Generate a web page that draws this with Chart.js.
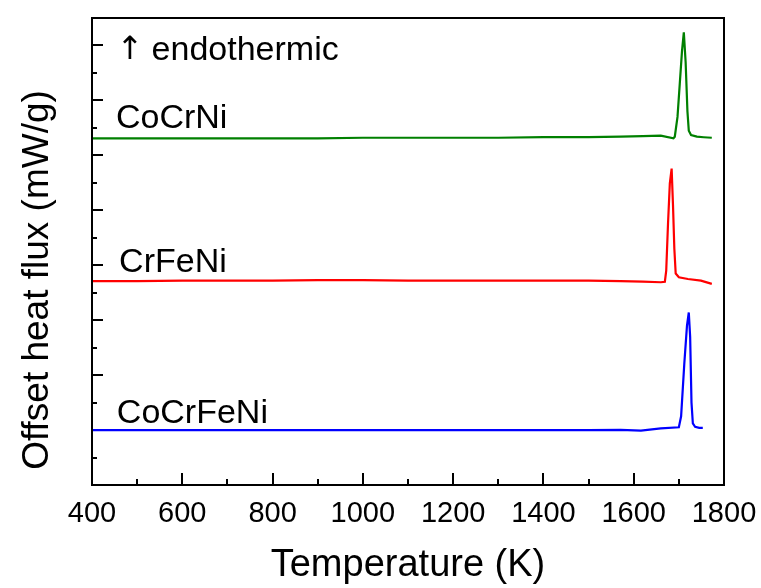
<!DOCTYPE html>
<html>
<head>
<meta charset="utf-8">
<script src="https://cdn.jsdelivr.net/npm/chart.js@4.4.0/dist/chart.umd.min.js"></script>
<style>
  html, body { margin: 0; padding: 0; background: #fff; }
  #wrap { width: 761px; height: 588px; }
</style>
</head>
<body>
<div id="wrap"><canvas id="dsc" width="761" height="588"></canvas></div>
<script>
// DSC heating curves (T in K, offset heat flux in arb. units)
const coCrNiT = [400, 500, 600, 700, 800, 900, 1000, 1100, 1200, 1300, 1400, 1500, 1571, 1620, 1660, 1688, 1691, 1697, 1702, 1707, 1711, 1715, 1719, 1722, 1727, 1740, 1755, 1773];
const coCrNiQ = [6.31, 6.31, 6.31, 6.31, 6.31, 6.31, 6.32, 6.32, 6.32, 6.32, 6.33, 6.33, 6.34, 6.35, 6.36, 6.31, 6.34, 6.7, 7.3, 7.9, 8.24, 7.7, 6.8, 6.45, 6.37, 6.34, 6.33, 6.32];

const crFeNiT = [400, 500, 600, 700, 800, 900, 1000, 1100, 1200, 1300, 1400, 1500, 1571, 1620, 1660, 1669, 1672, 1676, 1680, 1684, 1687, 1690, 1693, 1700, 1720, 1749, 1773];
const crFeNiQ = [3.71, 3.71, 3.72, 3.72, 3.72, 3.73, 3.73, 3.72, 3.72, 3.72, 3.72, 3.72, 3.71, 3.70, 3.69, 3.70, 3.9, 4.76, 5.49, 5.76, 5.1, 4.3, 3.85, 3.78, 3.75, 3.72, 3.66];

const coCrFeNiT = [400, 500, 600, 700, 800, 900, 1000, 1100, 1200, 1300, 1400, 1500, 1571, 1616, 1660, 1700, 1705, 1712, 1718, 1722, 1725, 1728, 1731, 1736, 1745, 1753];
const coCrFeNiQ = [1.00, 1.00, 1.00, 1.00, 1.00, 1.00, 1.00, 1.00, 1.00, 1.00, 1.00, 1.00, 1.005, 0.99, 1.03, 1.05, 1.25, 2.2, 2.9, 3.14, 2.7, 1.5, 1.12, 1.06, 1.04, 1.04];

const seriesNames = ['CoCrNi', 'CrFeNi', 'CoCrFeNi'];
const seriesColors = ['#008000', '#FF0000', '#0000FF'];

// axis ranges
const xMin = 400, xMax = 1800, xStep = 200, xMinorStep = 100;
const yMin = 0, yMax = 8.5, yMinorStep = 0.5;

// text labels anchored in data units: [text, T, Q]
const curveLabels = [
  ['endothermic', 532, 7.73],
  ['CoCrNi', 453, 6.49],
  ['CrFeNi', 460, 3.87],
  ['CoCrFeNi', 455, 1.12]
];
const arrowAt = [484, 7.76];

const FONT = "'Liberation Sans', Arial, sans-serif";

function toPoints(xs, ys) {
  return xs.map((x, i) => ({ x, y: ys[i] }));
}

const frameAndTicks = {
  id: 'frameAndTicks',
  beforeDatasetsDraw(chart) {
    const { ctx, chartArea: a, scales: { x, y } } = chart;
    ctx.save();
    ctx.strokeStyle = '#000';
    ctx.lineWidth = 2;
    ctx.beginPath();
    for (let v = xMin; v <= xMax; v += xMinorStep) {
      const px = Math.round(x.getPixelForValue(v));
      const len = (v - xMin) % xStep === 0 ? 12 : 6;
      ctx.moveTo(px, a.bottom);
      ctx.lineTo(px, a.bottom - len);
    }
    for (let v = yMin; v <= yMax + 1e-9; v += yMinorStep) {
      const py = Math.round(y.getPixelForValue(v));
      const len = Math.abs(v - Math.round(v)) < 1e-9 ? 11 : 5;
      ctx.moveTo(a.left, py);
      ctx.lineTo(a.left + len, py);
    }
    ctx.stroke();
    ctx.restore();
  },
  afterDatasetsDraw(chart) {
    const { ctx, chartArea: a } = chart;
    ctx.save();
    ctx.strokeStyle = '#000';
    ctx.lineWidth = 2;
    ctx.strokeRect(a.left, a.top, a.right - a.left, a.bottom - a.top);
    ctx.restore();
  },
  afterDraw(chart) {
    const { ctx, scales: { x, y } } = chart;
    ctx.save();
    ctx.fillStyle = '#000';
    ctx.font = '34px ' + FONT;
    ctx.textBaseline = 'alphabetic';
    ctx.textAlign = 'left';
    curveLabels.forEach(([txt, t, q]) => {
      ctx.fillText(txt, x.getPixelForValue(t), y.getPixelForValue(q));
    });
    ctx.font = "32px 'DejaVu Sans', sans-serif";
    ctx.textAlign = 'center';
    ctx.fillText('\u2191', x.getPixelForValue(arrowAt[0]), y.getPixelForValue(arrowAt[1]));
    // y axis title
    ctx.translate(38, 280);
    ctx.rotate(-Math.PI / 2);
    ctx.font = '37px ' + FONT;
    ctx.textAlign = 'center';
    ctx.textBaseline = 'middle';
    ctx.fillText('Offset heat flux (mW/g)', 0, 0);
    ctx.restore();
  }
};

const datasets = [
  toPoints(coCrNiT, coCrNiQ),
  toPoints(crFeNiT, crFeNiQ),
  toPoints(coCrFeNiT, coCrFeNiQ)
].map((pts, i) => ({
  label: seriesNames[i],
  data: pts,
  showLine: true,
  borderColor: seriesColors[i],
  backgroundColor: seriesColors[i],
  borderWidth: 2.2,
  pointRadius: 0,
  tension: 0
}));

new Chart(document.getElementById('dsc'), {
  type: 'scatter',
  data: { datasets },
  options: {
    responsive: false,
    devicePixelRatio: 1,
    animation: false,
    layout: { padding: { top: 18, right: 37, left: 0, bottom: 0 } },
    plugins: { legend: { display: false }, tooltip: { enabled: false } },
    scales: {
      x: {
        type: 'linear',
        min: xMin,
        max: xMax,
        grid: { display: false, drawTicks: false },
        border: { display: false },
        ticks: {
          stepSize: xStep,
          autoSkip: false,
          maxRotation: 0,
          padding: 12,
          color: '#000',
          font: { family: FONT, size: 29 },
          callback: v => String(v)
        },
        title: {
          display: true,
          text: 'Temperature (K)',
          color: '#000',
          font: { family: FONT, size: 38 },
          padding: { top: 0, bottom: 0 }
        },
        afterFit(s) {
          s.height = 103;
          // let the layout padding alone decide the plot edges
          s.paddingLeft = 0;
          s.paddingRight = 0;
        }
      },
      y: {
        type: 'linear',
        min: yMin,
        max: yMax,
        grid: { display: false, drawTicks: false },
        border: { display: false },
        ticks: { display: false },
        afterFit(s) { s.width = 92; s.paddingTop = 0; s.paddingBottom = 0; }
      }
    }
  },
  plugins: [frameAndTicks]
});
</script>
</body>
</html>
